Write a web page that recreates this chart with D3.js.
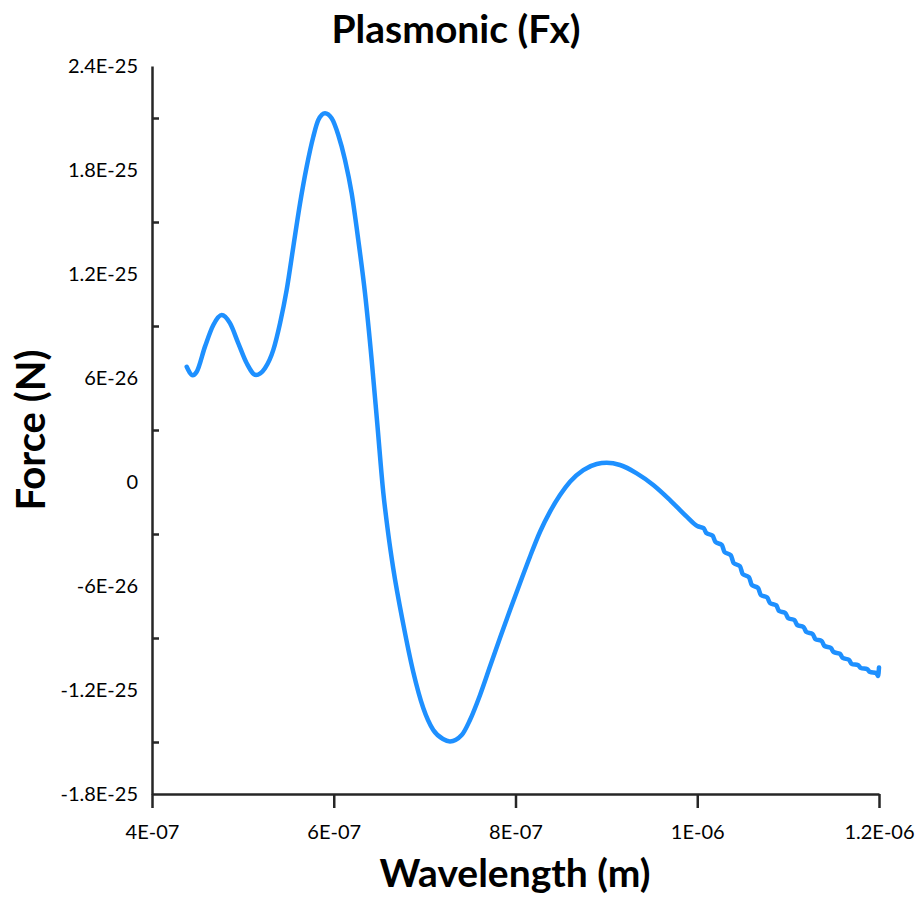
<!DOCTYPE html>
<html>
<head>
<meta charset="utf-8">
<script src="https://cdn.jsdelivr.net/npm/d3@7"></script>
<style>
  body { margin: 0; background: #fff; }
  svg { display: block; }
  text { font-family: Lato, "Open Sans", sans-serif; fill: #000; }
</style>
</head>
<body>
<svg id="chart" width="917" height="898"></svg>
<script>
// Wavelength in nm (axis labels are in metres)
const wavelengthNm = [
  438.2, 444.8, 449.2, 458.3, 467.5, 476.7, 485.8, 495.0, 504.2, 514.4,
  524.3, 533.5, 540.9, 548.2, 555.5, 562.9, 570.2, 577.5, 583.0, 590.4,
  597.7, 605.0, 612.4, 619.7, 627.0, 634.4, 641.8, 648.0, 654.5, 660.0,
  665.5, 676.5, 687.5, 698.5, 709.5, 720.2, 727.9, 740.8, 749.9, 760.9,
  771.9, 782.9, 793.9, 804.9, 815.9, 827.0, 838.0, 849.0, 860.0, 874.6,
  889.4, 900.4, 915.0, 933.4, 951.6, 970.0, 988.4, 1000,
  1007, 1010, 1017, 1020, 1027, 1030, 1037, 1040, 1047, 1050,
  1057, 1060, 1067, 1070, 1077, 1080, 1087, 1090, 1097, 1100,
  1107, 1110, 1117, 1120, 1127, 1130, 1137, 1140, 1147, 1150,
  1157, 1160, 1167, 1170, 1177, 1180, 1187, 1190, 1197, 1199, 1200
];
// Force Fx in units of 1E-26 N
const forceE26 = [
  6.65, 6.16, 6.36, 7.81, 9.06, 9.63, 9.16, 8.00, 6.85, 6.17,
  6.56, 7.62, 9.16, 11.08, 13.57, 16.08, 18.19, 19.92, 20.88, 21.27,
  20.98, 20.02, 18.58, 16.66, 13.96, 10.89, 7.00, 3.30, -0.60, -3.00,
  -5.00, -8.20, -10.96, -13.04, -14.31, -14.83, -14.97, -14.60, -13.73, -12.30,
  -10.65, -9.00, -7.40, -5.84, -4.31, -2.87, -1.71, -0.75, 0.02, 0.69,
  1.04, 1.11, 0.98, 0.50, -0.17, -1.04, -2.00, -2.54,
  -2.66, -2.94, -3.10, -3.46, -3.63, -4.04, -4.23, -4.67, -4.86, -5.31,
  -5.50, -5.94, -6.12, -6.52, -6.66, -6.98, -7.12, -7.44, -7.56, -7.85,
  -7.97, -8.25, -8.37, -8.65, -8.77, -9.06, -9.18, -9.46, -9.57, -9.81,
  -9.91, -10.15, -10.26, -10.50, -10.57, -10.73, -10.80, -10.96, -11.03, -11.19, -10.70
];

const xTickValues = [400, 600, 800, 1000, 1200];
const xTickLabels = ["4E-07", "6E-07", "8E-07", "1E-06", "1.2E-06"];
const yTickValues = [-18, -12, -6, 0, 6, 12, 18, 24];
const yTickLabels = ["-1.8E-25", "-1.2E-25", "-6E-26", "0", "6E-26", "1.2E-25", "1.8E-25", "2.4E-25"];
const yMinorValues = [-15, -9, -3, 3, 9, 15, 21];

const titleText = "Plasmonic (Fx)";
const xTitle = "Wavelength (m)";
const yTitle = "Force (N)";

const data = wavelengthNm.map((w, i) => ({ w, f: forceE26[i] }));

const svg = d3.select("#chart");
const x = d3.scaleLinear().domain([400, 1200]).range([152, 879]);
const y = d3.scaleLinear().domain([-18, 24]).range([794, 66]);

const axisColor = "#262626";

// Y axis: labels only, no major tick marks
const gy = svg.append("g")
  .attr("transform", `translate(${x(400)},0)`)
  .call(d3.axisLeft(y)
    .tickValues(yTickValues)
    .tickSize(0)
    .tickSizeOuter(0)
    .tickPadding(14)
    .tickFormat((d, i) => yTickLabels[i]));

// Minor ticks pointing into the plot
const gyMinor = svg.append("g")
  .attr("transform", `translate(${x(400)},0)`)
  .call(d3.axisRight(y)
    .tickValues(yMinorValues)
    .tickSize(7)
    .tickFormat(""));
gyMinor.select(".domain").remove();

// X axis with outward major ticks
const gx = svg.append("g")
  .attr("transform", `translate(0,${y(-18)})`)
  .call(d3.axisBottom(x)
    .tickValues(xTickValues)
    .tickSize(14)
    .tickSizeOuter(0)
    .tickPadding(17)
    .tickFormat((d, i) => xTickLabels[i]));

[gy, gyMinor, gx].forEach(g => {
  g.selectAll("path, line").attr("stroke", axisColor).attr("stroke-width", 2.5);
  g.selectAll("text").style("font-size", "20px").attr("fill", "#000");
});

// Data line
svg.append("path")
  .datum(data)
  .attr("fill", "none")
  .attr("stroke", "rgb(30,144,255)")
  .attr("stroke-width", 4.5)
  .attr("stroke-linejoin", "round")
  .attr("stroke-linecap", "round")
  .attr("d", d3.line()
    .x(d => x(d.w))
    .y(d => y(d.f))
    .curve(d3.curveMonotoneX));

// Titles
svg.append("text")
  .attr("x", 456).attr("y", 28)
  .attr("text-anchor", "middle")
  .attr("dominant-baseline", "central")
  .style("font-size", "39px").style("font-weight", "bold")
  .text(titleText);

svg.append("text")
  .attr("x", 515).attr("y", 872)
  .attr("text-anchor", "middle")
  .attr("dominant-baseline", "central")
  .style("font-size", "39px").style("font-weight", "bold")
  .text(xTitle);

svg.append("text")
  .attr("transform", "translate(30,430) rotate(-90)")
  .attr("text-anchor", "middle")
  .attr("dominant-baseline", "central")
  .style("font-size", "40px").style("font-weight", "bold")
  .text(yTitle);
</script>
</body>
</html>
